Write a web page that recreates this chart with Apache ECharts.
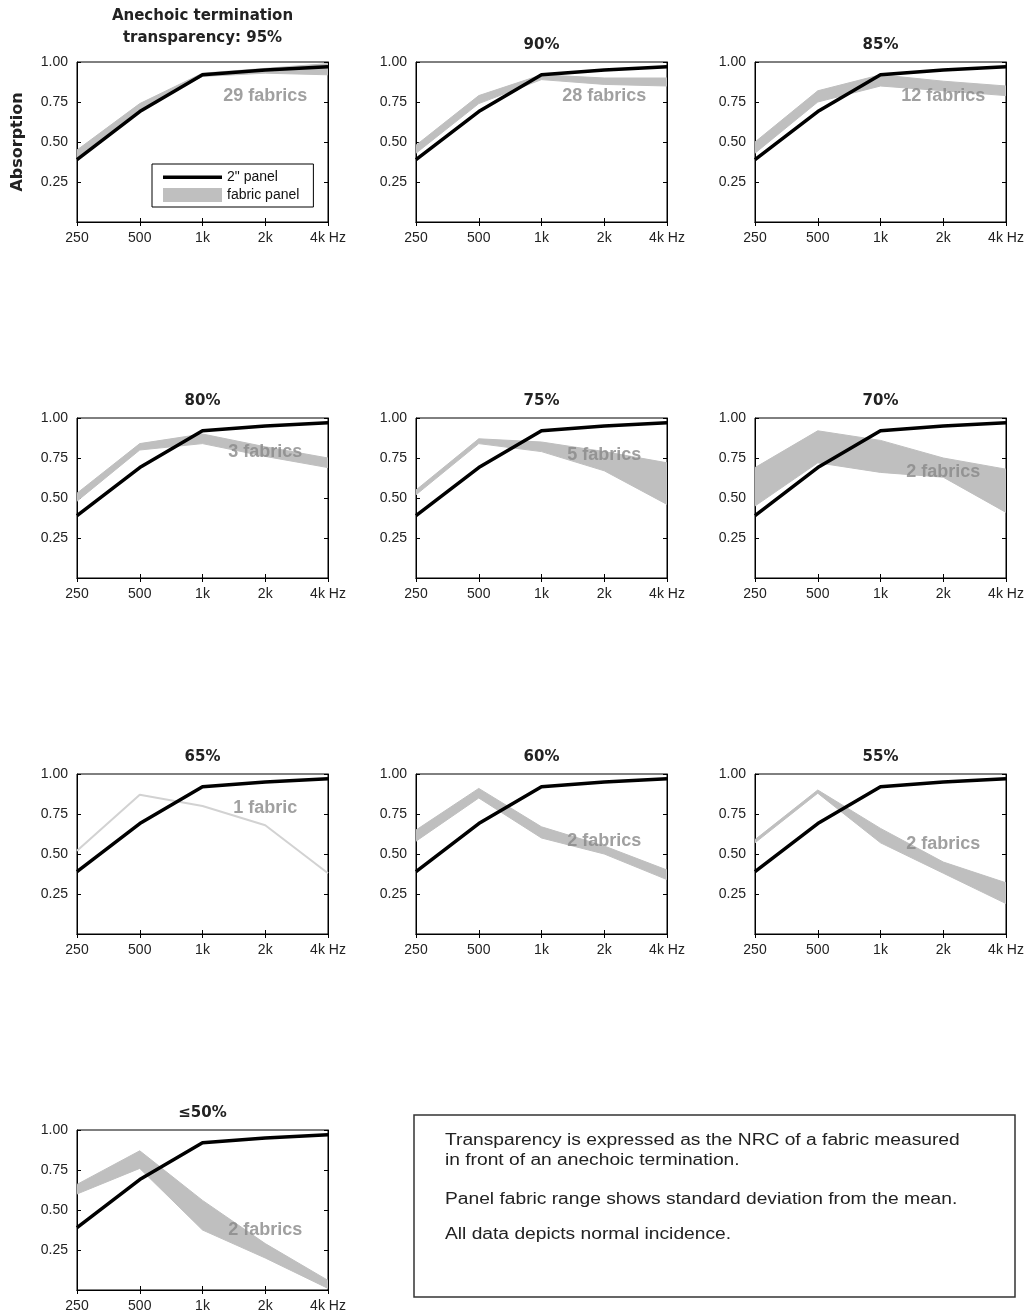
<!DOCTYPE html>
<html>
<head>
<meta charset="utf-8">
<script src="https://cdn.jsdelivr.net/npm/echarts@6/dist/echarts.min.js"></script>
<style>
html,body{margin:0;padding:0;background:#fff;}
#chart{width:1031px;height:1313px;}
</style>
</head>
<body>
<div id="chart"></div>
<script>
// ---- data ----
const freqs = ['250', '500', '1k', '2k', '4k Hz'];
const panelTitles = ['Anechoic termination\ntransparency: 95%', '90%', '85%', '80%', '75%', '70%', '65%', '60%', '55%', '\u226450%'];
const fabricCounts = ['29 fabrics', '28 fabrics', '12 fabrics', '3 fabrics', '5 fabrics', '2 fabrics', '1 fabric', '2 fabrics', '2 fabrics', '2 fabrics'];
const panel2in = [0.39, 0.69, 0.92, 0.95, 0.97];
const fabricLower = [
  [0.40, 0.70, 0.91, 0.93, 0.92],
  [0.43, 0.74, 0.89, 0.86, 0.85],
  [0.43, 0.75, 0.85, 0.82, 0.79],
  [0.48, 0.80, 0.84, 0.76, 0.69],
  [0.52, 0.84, 0.79, 0.67, 0.46],
  [0.45, 0.72, 0.66, 0.63, 0.41],
  [0.52, 0.87, 0.80, 0.68, 0.38],
  [0.58, 0.85, 0.60, 0.50, 0.34],
  [0.57, 0.88, 0.57, 0.38, 0.19],
  [0.60, 0.76, 0.375, 0.20, 0.01]
];
const fabricUpper = [
  [0.45, 0.74, 0.93, 0.96, 0.99],
  [0.48, 0.79, 0.92, 0.90, 0.90],
  [0.50, 0.82, 0.92, 0.88, 0.85],
  [0.53, 0.84, 0.90, 0.82, 0.75],
  [0.55, 0.87, 0.85, 0.79, 0.72],
  [0.69, 0.92, 0.86, 0.75, 0.68],
  [0.52, 0.87, 0.80, 0.68, 0.38],
  [0.65, 0.91, 0.67, 0.55, 0.40],
  [0.59, 0.90, 0.66, 0.45, 0.32],
  [0.66, 0.87, 0.56, 0.29, 0.06]
];
const countLabelAt = [0.79, 0.79, 0.79, 0.79, 0.77, 0.66, 0.79, 0.58, 0.56, 0.375];
const yTicks = [0.25, 0.50, 0.75, 1.00];
const noteLines = [
  'Transparency is expressed as the NRC of a fabric measured',
  'in front of an anechoic termination.',
  'Panel fabric range shows standard deviation from the mean.',
  'All data depicts normal incidence.'
];

// ---- layout ----
const L0 = 77, T0 = 62, DX = 339, DY = 356, W = 251, H = 160;
const GRAY = '#bfbfbf';
const SANS = '"Liberation Sans", Arial, sans-serif';

const chart = echarts.init(document.getElementById('chart'), null, {renderer: 'canvas'});
const grid = [], xAxis = [], yAxis = [], series = [], title = [];

panelTitles.forEach((t, i) => {
  const r = Math.floor(i / 3), c = i % 3;
  const left = L0 + c * DX, top = T0 + r * DY;
  grid.push({left: left, top: top, width: W, height: H, show: true, borderColor: '#000', borderWidth: 1, backgroundColor: '#fff'});
  const twoLine = t.indexOf('\n') >= 0;
  title.push({
    text: t, left: left + W / 2, top: twoLine ? top - 57 : top - 28, textAlign: 'center', padding: 0,
    textStyle: {fontFamily: '"DejaVu Sans", sans-serif', fontWeight: 'bold', fontSize: 15, color: '#222', lineHeight: 22}
  });
  const axisCommon = {
    gridIndex: i, type: 'category', data: freqs, boundaryGap: false,
    axisLine: {lineStyle: {color: '#000', width: 1}},
    axisTick: {inside: true, length: 4, lineStyle: {color: '#000'}},
    splitLine: {show: false}
  };
  xAxis.push(Object.assign({}, axisCommon, {position: 'bottom',
    axisLabel: {color: '#222', fontSize: 14, fontFamily: SANS, margin: 9}}));
  xAxis.push(Object.assign({}, axisCommon, {position: 'top', axisLabel: {show: false}}));
  const yCommon = {
    gridIndex: i, type: 'value', min: 0, max: 1, interval: 0.25,
    axisLine: {show: true, lineStyle: {color: '#000', width: 1}},
    axisTick: {show: true, inside: true, length: 4, lineStyle: {color: '#000'}},
    splitLine: {show: false}
  };
  yAxis.push(Object.assign({}, yCommon, {position: 'left',
    axisLabel: {color: '#222', fontSize: 14, fontFamily: SANS, margin: 9,
      formatter: v => yTicks.some(t => Math.abs(t - v) < 1e-9) ? v.toFixed(2) : ''},
    name: i === 0 ? 'Absorption' : '', nameLocation: 'middle', nameGap: 51,
    nameTextStyle: {fontFamily: '"DejaVu Sans", sans-serif', fontWeight: 'bold', fontSize: 16, color: '#222'}}));
  yAxis.push(Object.assign({}, yCommon, {position: 'right', axisLabel: {show: false}}));

  const xi = 2 * i, yi = 2 * i;
  const single = fabricCounts[i].indexOf('fabrics') < 0;
  if (single) {
    series.push({name: 'fabric panel', type: 'line', xAxisIndex: xi, yAxisIndex: yi, data: fabricLower[i],
      symbol: 'none', silent: true, z: 2, lineStyle: {color: '#d2d2d2', width: 2}});
  } else {
    series.push({name: 'fabric lower', type: 'line', xAxisIndex: xi, yAxisIndex: yi, data: fabricLower[i],
      stack: 'band' + i, symbol: 'none', silent: true, z: 2, lineStyle: {color: GRAY, width: 1}});
    series.push({name: 'fabric panel', type: 'line', xAxisIndex: xi, yAxisIndex: yi,
      data: fabricUpper[i].map((u, k) => +(u - fabricLower[i][k]).toFixed(4)),
      stack: 'band' + i, symbol: 'none', silent: true, z: 2, lineStyle: {color: GRAY, width: 1},
      areaStyle: {color: GRAY, opacity: 1}});
  }
  series.push({name: '2" panel', type: 'line', xAxisIndex: xi, yAxisIndex: yi, data: panel2in,
    symbol: 'none', silent: true, z: 3, lineStyle: {color: '#000', width: 3.5}});
  series.push({name: 'count', type: 'scatter', xAxisIndex: xi, yAxisIndex: yi, symbolSize: 0, silent: true, z: 4,
    data: [['2k', countLabelAt[i]]],
    label: {show: true, position: 'inside', formatter: fabricCounts[i], color: '#888888',
      fontFamily: SANS, fontWeight: 'bold', fontSize: 18}});
});

const lineIcon = 'path://M0,0h0.01v0.01z M0,5.5h59v3.5h-59z M0,14h0.01v-0.01z';

const noteGraphics = [
  {type: 'rect', shape: {x: 414, y: 1115, width: 601, height: 182}, style: {fill: '#fff', stroke: '#333', lineWidth: 1.5}, silent: true}
];
const noteY = [1141, 1161, 1200, 1235];
noteLines.forEach((s, k) => {
  noteGraphics.push({type: 'text', x: 445, y: noteY[k], scaleX: 1.2, silent: true,
    style: {text: s, font: '16px "Liberation Sans", Arial, sans-serif', fill: '#222', textVerticalAlign: 'middle', verticalAlign: 'middle'}});
});

chart.setOption({
  backgroundColor: '#fff',
  animation: false,
  title: title,
  grid: grid,
  xAxis: xAxis,
  yAxis: yAxis,
  series: series,
  legend: {
    left: 152, top: 164, orient: 'vertical',
    backgroundColor: '#fff', borderColor: '#000', borderWidth: 1,
    padding: [6, 14, 5, 11], itemWidth: 59, itemHeight: 14, itemGap: 4,
    selectedMode: false,
    textStyle: {fontFamily: SANS, fontSize: 14, color: '#111', padding: [0, 0, 0, 0]},
    data: [
      {name: '2" panel', icon: lineIcon, itemStyle: {color: '#000', borderWidth: 0}},
      {name: 'fabric panel', icon: 'rect', itemStyle: {color: GRAY, borderWidth: 0}}
    ]
  },
  graphic: noteGraphics
});
</script>
</body>
</html>
